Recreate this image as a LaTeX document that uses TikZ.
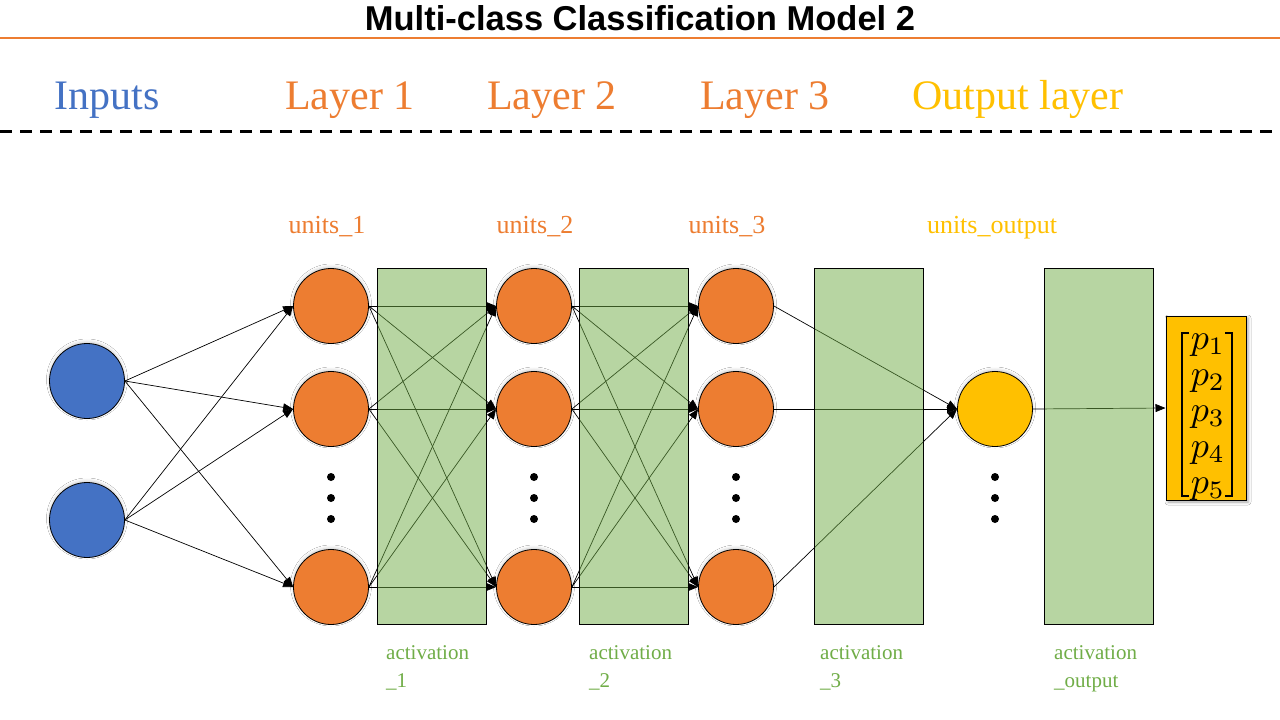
\documentclass[tikz,border=0pt]{standalone}
\usepackage{amsmath}
\usepackage{fontspec}
\setmainfont{Liberation Serif}
\newfontfamily\titlefont{Liberation Sans}
\usetikzlibrary{arrows.meta,shadows.blur}
\definecolor{cblue}{HTML}{4472C4}
\definecolor{corange}{HTML}{ED7D31}
\definecolor{cgold}{HTML}{FFC000}
\definecolor{cgreen}{HTML}{70AD47}
\tikzset{
  neuron/.style={circle, draw=black, line width=0.8pt, inner sep=0pt, minimum size=75pt,
    blur shadow={shadow xshift=0pt, shadow yshift=1.5pt, shadow blur radius=3pt, shadow opacity=20}},
  dotn/.style={circle, fill=black, inner sep=0pt, minimum size=8pt},
  conn/.style={line width=0.7pt, draw=black, -{Triangle[length=10pt,width=8pt]}},
  actbox/.style={rectangle, draw=black, line width=1pt, fill=cgreen, fill opacity=0.5,
    draw opacity=1, minimum width=109pt, minimum height=356pt, inner sep=0pt},
  head/.style={anchor=base, font=\fontsize{42}{50}\selectfont},
  unitlbl/.style={anchor=base, font=\fontsize{26}{30}\selectfont},
  actlbl/.style={anchor=north west, align=left, text=cgreen, inner sep=0pt,
    font=\fontsize{21}{28}\selectfont},
  pent/.style={inner sep=0pt},
  brk/.style={line width=2pt, draw=black}
}
\begin{document}
\begin{tikzpicture}[x=1pt,y=-1pt]
\useasboundingbox (0,0) rectangle (1280,720);
\fill[white] (0,0) rectangle (1280,720);

% title
\node[anchor=base, font=\titlefont\bfseries\fontsize{34.5}{38}\selectfont] (title) at (640,30) {Multi-class Classification Model 2};
\draw[corange, line width=2pt] (0,38) -- (1280,38);

% headings
\node[head, text=cblue] (hin) at (107,109) {Inputs};
\node[head, text=corange] (hl1) at (350,109) {Layer 1};
\node[head, text=corange] (hl2) at (552,109) {Layer 2};
\node[head, text=corange] (hl3) at (765,109) {Layer 3};
\node[head, text=cgold] (hout) at (1018,109) {Output layer};
\draw[black, line width=3pt, dash pattern=on 12pt off 8pt] (0,131) -- (1280,131);

% unit labels
\node[unitlbl, text=corange] (u1) at (327,233) {units\_1};
\node[unitlbl, text=corange] (u2) at (535,233) {units\_2};
\node[unitlbl, text=corange] (u3) at (727,233) {units\_3};
\node[unitlbl, text=cgold] (uo) at (992,233) {units\_output};

% neurons
\node[neuron, fill=cblue] (i1) at (87,381) {};
\node[neuron, fill=cblue] (i2) at (87,520) {};
\foreach \n/\x in {a/331,b/534,c/736}{
  \node[neuron, fill=corange] (\n1) at (\x,306) {};
  \node[neuron, fill=corange] (\n2) at (\x,409) {};
  \node[neuron, fill=corange] (\n3) at (\x,587) {};
  \node[dotn] (\n d1) at (\x,477) {};
  \node[dotn] (\n d2) at (\x,498) {};
  \node[dotn] (\n d3) at (\x,519) {};
}
\node[neuron, fill=cgold] (o) at (995,409) {};
\node[dotn] (od1) at (995,477) {};
\node[dotn] (od2) at (995,498) {};
\node[dotn] (od3) at (995,519) {};

% output vector box
\node[draw=black, line width=1pt, fill=cgold, minimum width=80pt, minimum height=184pt, inner sep=0pt,
  blur shadow={shadow xshift=2pt, shadow yshift=-2pt, shadow blur radius=3pt, shadow opacity=35}]
  (pbox) at (1206,408) {};
\draw[brk] (1189,333) -- (1182,333) -- (1182,496) -- (1189,496);
\draw[brk] (1225,333) -- (1232,333) -- (1232,496) -- (1225,496);
\foreach \k/\y in {1/345,2/381,3/417,4/453,5/489}{
  \node[pent] (p\k) at (1208,\y) {\scalebox{3.6}{$p_{\k}$}};
}

% connectors
\foreach \s in {i1,i2}{\foreach \t in {a1,a2,a3}{\draw[conn] (\s.east) -- (\t.west);}}
\foreach \s in {a1,a2,a3}{\foreach \t in {b1,b2,b3}{\draw[conn] (\s.east) -- (\t.west);}}
\foreach \s in {b1,b2,b3}{\foreach \t in {c1,c2,c3}{\draw[conn] (\s.east) -- (\t.west);}}
\foreach \s in {c1,c2,c3}{\draw[conn] (\s.east) -- (o.west);}
\draw[conn] (o.east) -- (pbox.west);

% activation boxes (semi-transparent over the connectors)
\node[actbox] (r1) at (431.5,446) {};
\node[actbox] (r2) at (633.5,446) {};
\node[actbox] (r3) at (868.5,446) {};
\node[actbox] (r4) at (1099,446) {};

% activation labels
\node[actlbl] (al1) at (386,645) {activation\\\_1};
\node[actlbl] (al2) at (589,645) {activation\\\_2};
\node[actlbl] (al3) at (820,645) {activation\\\_3};
\node[actlbl] (al4) at (1054,645) {activation\\\_output};
\end{tikzpicture}
\end{document}
